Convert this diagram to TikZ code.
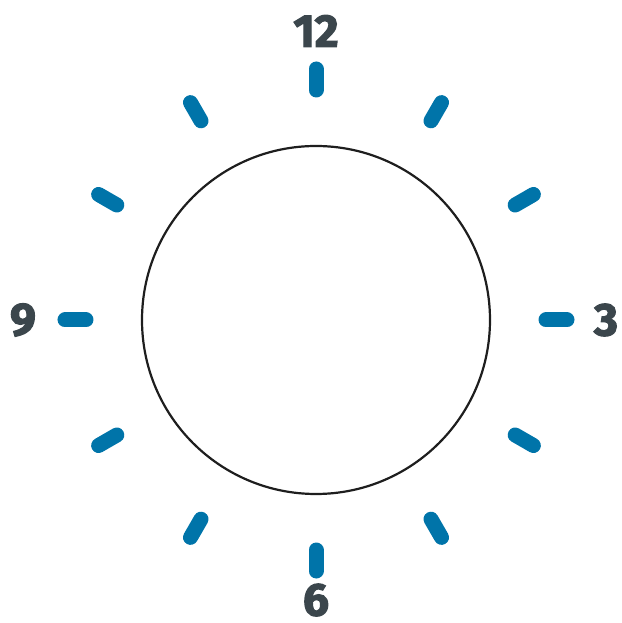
\documentclass[tikz,border=0pt]{standalone}
\usepackage{fontspec}
\setmainfont{Fira Sans}[BoldFeatures={FakeBold=2.6}]
\definecolor{tickblue}{HTML}{0074A9}
\definecolor{numgray}{HTML}{3B464C}
\definecolor{ringcol}{HTML}{1E1E1E}
\begin{document}
\begin{tikzpicture}[x=1pt,y=1pt,
  tickmark/.style={draw=tickblue,line width=15pt,line cap=round},
  hourlabel/.style={text=numgray,font=\fontsize{46}{46}\selectfont\bfseries,inner sep=0pt}]
\useasboundingbox (-316,-303) rectangle (305,320);
\draw[ringcol,line width=2.2pt] (0,0) circle (174);
\foreach \a in {0,30,...,330}{
  \draw[tickmark] (\a:230) -- (\a:251);
}
\node[hourlabel] (n12) at (90:289) {12};
\node[hourlabel] (n3) at (0:290) {3};
\node[hourlabel] (n6) at (270:280) {6};
\node[hourlabel] (n9) at (180:293) {9};
\end{tikzpicture}
\end{document}
